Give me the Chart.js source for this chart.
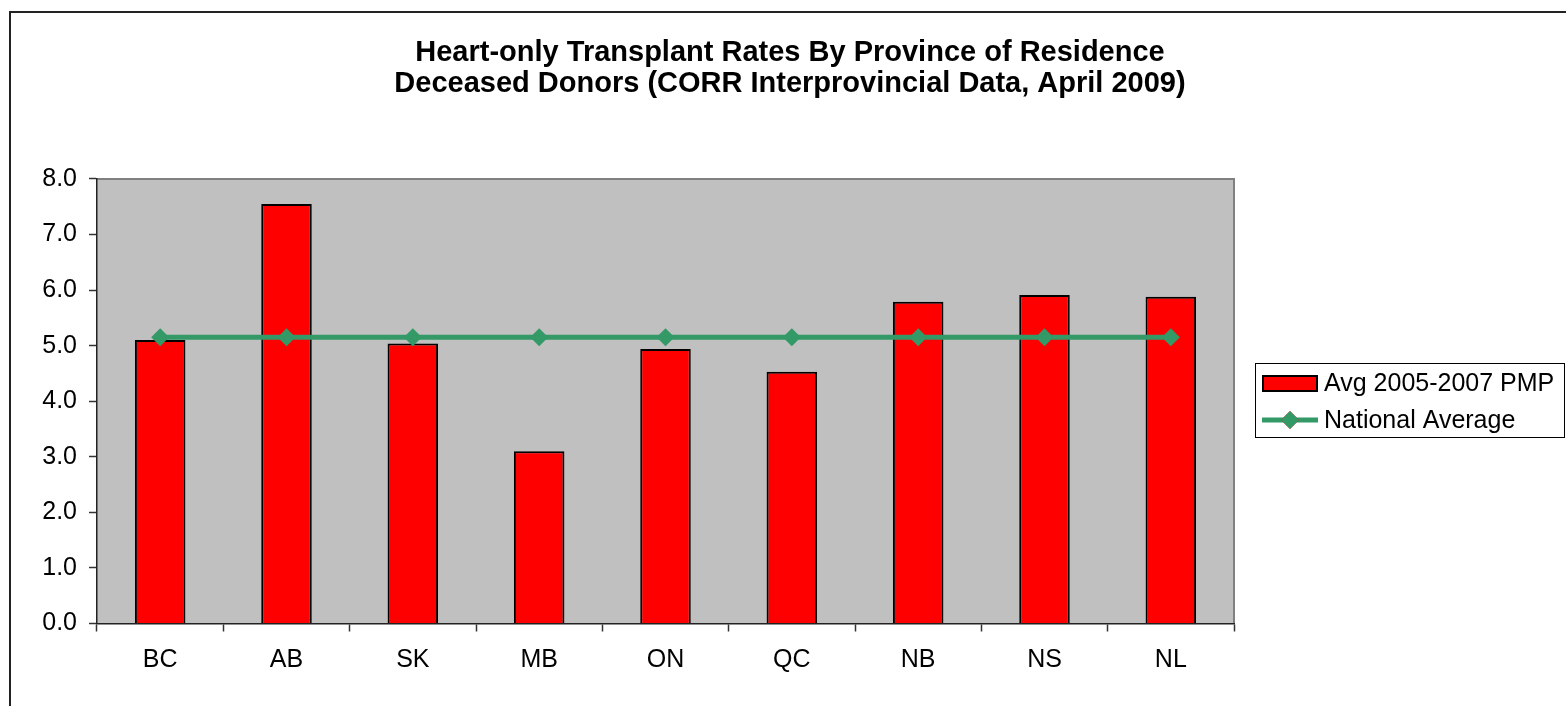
<!DOCTYPE html>
<html>
<head>
<meta charset="utf-8">
<title>Heart-only Transplant Rates</title>
<script src="https://cdn.jsdelivr.net/npm/chart.js@4.4.0/dist/chart.umd.min.js"></script>
<style>
    html, body { margin: 0; padding: 0; background: #fff; }
    canvas { display: block; }
</style>
</head>
<body>
<canvas id="heartChart" width="1566" height="706"></canvas>
<script>
// Chart data
const provinces = ['BC', 'AB', 'SK', 'MB', 'ON', 'QC', 'NB', 'NS', 'NL'];
const avgRates = [5.10, 7.55, 5.04, 3.10, 4.94, 4.53, 5.79, 5.91, 5.88];
const nationalAvg = [5.15, 5.15, 5.15, 5.15, 5.15, 5.15, 5.15, 5.15, 5.15];
const barLabel = 'Avg 2005-2007 PMP';
const lineLabel = 'National Average';
const titleLines = [
    'Heart-only Transplant Rates By Province of Residence',
    'Deceased Donors (CORR Interprovincial Data, April 2009)'
];

const FONT = '"Liberation Sans", Arial, sans-serif';
const RED = '#ff0000';
const GREEN = '#339966';

// 1. Plot background + frame
const plotBackground = {
    id: 'plotBackground',
    beforeDraw(chart) {
        const { ctx, chartArea: a } = chart;
        ctx.save();
        // outer chart frame (runs off the right and bottom edge)
        ctx.strokeStyle = '#222';
        ctx.lineWidth = 2;
        ctx.strokeRect(10, 12, chart.width + 40, chart.height + 40);
        // grey plot area
        ctx.fillStyle = '#c0c0c0';
        ctx.fillRect(a.left, a.top, a.right - a.left, a.bottom - a.top);
        ctx.strokeStyle = '#808080';
        ctx.lineWidth = 2;
        ctx.beginPath();
        ctx.moveTo(a.left, a.top);
        ctx.lineTo(a.right, a.top);
        ctx.lineTo(a.right, a.bottom);
        ctx.stroke();
        ctx.restore();
    }
};

// 2. Boxed legend on the right, like the Excel one
const boxLegend = {
    id: 'boxLegend',
    afterDraw(chart) {
        const ctx = chart.ctx;
        const bar = chart.data.datasets.find(d => d.type !== 'line');
        const line = chart.data.datasets.find(d => d.type === 'line');
        const x = 1255, y = 363, w = 310, h = 75;
        ctx.save();
        ctx.fillStyle = '#fff';
        ctx.fillRect(x, y, w, h);
        ctx.strokeStyle = '#000';
        ctx.lineWidth = 1;
        ctx.strokeRect(x + 0.5, y + 0.5, w - 1, h - 1);

        // bar swatch
        ctx.fillStyle = bar.backgroundColor;
        ctx.fillRect(1262, 375, 56, 17);
        ctx.strokeStyle = bar.borderColor;
        ctx.lineWidth = 2;
        ctx.strokeRect(1263, 376, 54, 15);

        // line swatch with diamond
        ctx.strokeStyle = line.borderColor;
        ctx.lineWidth = line.borderWidth;
        ctx.beginPath();
        ctx.moveTo(1262, 420);
        ctx.lineTo(1318, 420);
        ctx.stroke();
        Chart.helpers.drawPoint(ctx, { pointStyle: 'rectRot', radius: line.pointRadius, borderWidth: 0 }, 1290, 420);
        ctx.fillStyle = line.pointBackgroundColor;
        ctx.fill();

        ctx.fillStyle = '#000';
        ctx.font = '25px ' + FONT;
        ctx.textBaseline = 'middle';
        ctx.textAlign = 'left';
        ctx.fillText(bar.label, 1324, 384);
        ctx.fillText(line.label, 1324, 421);
        ctx.restore();
    }
};

// 3. Chart
new Chart(document.getElementById('heartChart'), {
    type: 'bar',
    data: {
        labels: provinces,
        datasets: [
            {
                type: 'line',
                label: lineLabel,
                data: nationalAvg,
                borderColor: GREEN,
                borderWidth: 5,
                pointStyle: 'rectRot',
                pointRadius: 9,
                pointBackgroundColor: GREEN,
                pointBorderWidth: 0,
                order: 0
            },
            {
                type: 'bar',
                label: barLabel,
                data: avgRates,
                backgroundColor: RED,
                borderColor: '#000',
                borderWidth: 2,
                barPercentage: 0.4,
                categoryPercentage: 1,
                order: 1
            }
        ]
    },
    options: {
        responsive: false,
        animation: false,
        layout: { padding: { left: 14, right: 0, top: 0, bottom: 0 } },
        plugins: {
            legend: { display: false },
            tooltip: { enabled: false },
            title: {
                display: true,
                text: titleLines,
                color: '#000',
                font: { family: FONT, size: 29, weight: 'bold', lineHeight: 1.05 },
                padding: { top: 38, bottom: 80 }
            }
        },
        scales: {
            x: {
                offset: true,
                grid: { display: true, offset: true, drawOnChartArea: false, tickLength: 8, color: '#333', tickWidth: 1.5 },
                border: { display: true, color: '#222', width: 1.5 },
                ticks: { color: '#000', padding: 14, font: { family: FONT, size: 25 } },
                afterFit(s) { s.height = 82.5; }
            },
            y: {
                min: 0,
                max: 8,
                grid: { drawOnChartArea: false, tickLength: 8, color: '#333', tickWidth: 1.5 },
                border: { display: true, color: '#222', width: 1.5 },
                ticks: {
                    stepSize: 1,
                    color: '#000',
                    padding: 12,
                    font: { family: FONT, size: 25 },
                    callback: v => v.toFixed(1)
                },
                afterFit(s) { s.width = 83; }
            },
            // empty axis that only reserves room for the legend
            side: {
                type: 'linear',
                position: 'right',
                display: true,
                grid: { display: false },
                border: { display: false },
                ticks: { display: false },
                afterFit(s) { s.width = 332; }
            }
        }
    },
    plugins: [plotBackground, boxLegend]
});
</script>
</body>
</html>
